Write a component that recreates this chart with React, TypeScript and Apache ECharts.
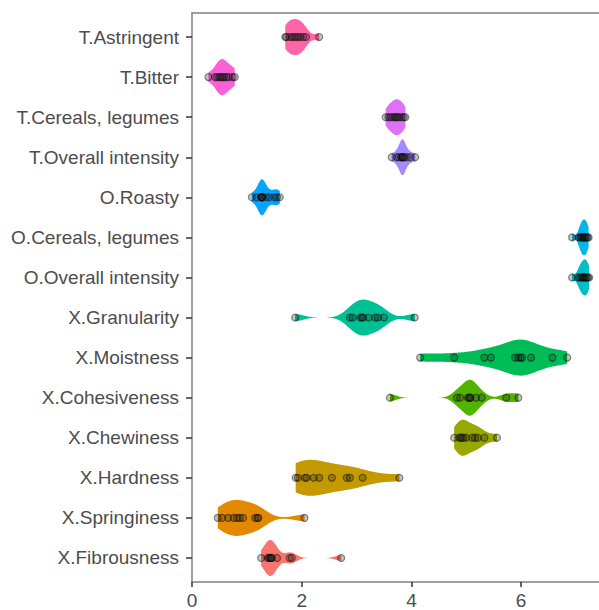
import React, { useEffect, useRef } from "react";
import * as echarts from "echarts";

const categories = [
  "T.Astringent",
  "T.Bitter",
  "T.Cereals, legumes",
  "T.Overall intensity",
  "O.Roasty",
  "O.Cereals, legumes",
  "O.Overall intensity",
  "X.Granularity",
  "X.Moistness",
  "X.Cohesiveness",
  "X.Chewiness",
  "X.Hardness",
  "X.Springiness",
  "X.Fibrousness",
];

const tAstringent = [1.7, 1.72, 1.78, 1.82, 1.86, 1.9, 1.94, 1.98, 2.03, 2.08, 2.32];
const tBitter = [0.3, 0.42, 0.46, 0.5, 0.53, 0.56, 0.59, 0.63, 0.67, 0.74, 0.78];
const tCereals = [3.53, 3.58, 3.62, 3.66, 3.7, 3.72, 3.75, 3.78, 3.82, 3.86, 3.89];
const tOverall = [3.64, 3.73, 3.77, 3.81, 3.83, 3.84, 3.85, 3.88, 3.92, 3.98, 4.07];
const oRoasty = [1.09, 1.18, 1.26, 1.27, 1.27, 1.28, 1.28, 1.35, 1.41, 1.5, 1.55, 1.6];
const oCereals = [6.93, 7.05, 7.08, 7.1, 7.12, 7.14, 7.15, 7.17, 7.19, 7.21, 7.23];
const oOverall = [6.93, 7.04, 7.07, 7.1, 7.12, 7.14, 7.16, 7.18, 7.2, 7.22, 7.24];
const xGranularity = [1.88, 2.88, 2.93, 3.07, 3.1, 3.12, 3.22, 3.34, 3.39, 3.5, 4.06];
const xMoistness = [4.16, 4.78, 5.33, 5.45, 5.89, 5.95, 5.99, 6.02, 6.18, 6.57, 6.84];
const xCohesiveness = [3.61, 4.83, 4.89, 5.03, 5.05, 5.07, 5.08, 5.18, 5.28, 5.73, 5.95];
const xChewiness = [4.78, 4.87, 4.9, 4.92, 4.95, 5.0, 5.11, 5.16, 5.21, 5.33, 5.56];
const xHardness = [1.89, 1.93, 2.06, 2.09, 2.22, 2.32, 2.55, 2.82, 2.88, 3.11, 3.78];
const xSpringiness = [0.47, 0.55, 0.66, 0.76, 0.82, 0.87, 0.93, 1.15, 1.19, 1.21, 2.05];
const xFibrousness = [1.26, 1.38, 1.4, 1.43, 1.43, 1.44, 1.46, 1.55, 1.78, 1.82, 2.72];

const seriesValues = [
  tAstringent,
  tBitter,
  tCereals,
  tOverall,
  oRoasty,
  oCereals,
  oOverall,
  xGranularity,
  xMoistness,
  xCohesiveness,
  xChewiness,
  xHardness,
  xSpringiness,
  xFibrousness,
];

const violinColors = [
  "#FF66A8",
  "#FB61D7",
  "#DF70F8",
  "#A58AFF",
  "#06A4FF",
  "#00B6EB",
  "#00BFC4",
  "#00C094",
  "#00BC56",
  "#53B400",
  "#99A800",
  "#C49A00",
  "#E38900",
  "#F8766D",
];

const xTicks = [0, 2, 4, 6];

function quantile7(sorted: number[], p: number) {
  const h = (sorted.length - 1) * p;
  const lo = Math.floor(h);
  const hi = Math.ceil(h);
  return sorted[lo] + (h - lo) * (sorted[hi] - sorted[lo]);
}

function bwNrd0(v: number[]) {
  const n = v.length;
  const mean = v.reduce((a, b) => a + b, 0) / n;
  const sd = Math.sqrt(v.reduce((a, b) => a + (b - mean) * (b - mean), 0) / (n - 1));
  const s = [...v].sort((a, b) => a - b);
  const iqr = quantile7(s, 0.75) - quantile7(s, 0.25);
  let lo = Math.min(sd, iqr / 1.34);
  if (!(lo > 0)) lo = sd || Math.abs(s[0]) || 1;
  return 0.9 * lo * Math.pow(n, -0.2);
}

function violinOutline(v: number[], steps = 200) {
  const bw = bwNrd0(v);
  const min = Math.min(...v);
  const max = Math.max(...v);
  const pts: number[][] = [];
  let maxD = 0;
  for (let i = 0; i <= steps; i++) {
    const x = min + ((max - min) * i) / steps;
    let d = 0;
    for (const xi of v) {
      const z = (x - xi) / bw;
      d += Math.exp(-0.5 * z * z);
    }
    if (d > maxD) maxD = d;
    pts.push([x, d]);
  }
  return pts.map(([x, d]) => [x, (0.45 * d) / maxD]);
}

export default function App() {
  const ref = useRef<HTMLDivElement>(null);

  useEffect(() => {
    if (!ref.current) return;
    const chart = echarts.init(ref.current, undefined, { renderer: "svg" });
    const outlines = seriesValues.map((v) => violinOutline(v));
    const font = "'Liberation Sans', Arial, Helvetica, sans-serif";
    const xMax = 7.42;

    const pointData: number[][] = [];
    seriesValues.forEach((vals, i) => {
      vals.forEach((v) => pointData.push([v, i + 1]));
    });

    chart.setOption({
      animation: false,
      backgroundColor: "#ffffff",
      grid: { left: 192, right: 0, top: 13, bottom: 25, containLabel: false },
      xAxis: [
        {
          type: "value",
          min: 0,
          max: xMax,
          position: "bottom",
          axisLine: { show: true, lineStyle: { color: "#808080", width: 1.5 } },
          axisTick: {
            show: true,
            length: 5,
            customValues: xTicks,
            lineStyle: { color: "#333333", width: 1.5 },
          },
          axisLabel: {
            show: true,
            customValues: xTicks,
            color: "#4d4d4d",
            fontSize: 19,
            fontFamily: font,
            margin: 9,
          },
          splitLine: { show: false },
        },
        {
          type: "value",
          min: 0,
          max: xMax,
          position: "top",
          axisLine: { show: true, lineStyle: { color: "#808080", width: 1.5 } },
          axisTick: { show: false },
          axisLabel: { show: false },
          splitLine: { show: false },
        },
      ],
      yAxis: {
        type: "value",
        min: 0.4,
        max: 14.6,
        inverse: true,
        axisLine: { show: true, lineStyle: { color: "#808080", width: 1.5 } },
        axisTick: {
          show: true,
          length: 6,
          customValues: categories.map((_, i) => i + 1),
          lineStyle: { color: "#333333", width: 1.5 },
        },
        axisLabel: {
          show: true,
          customValues: categories.map((_, i) => i + 1),
          formatter: (val: number) => categories[Math.round(val) - 1] ?? "",
          color: "#4d4d4d",
          fontSize: 19,
          fontFamily: font,
          margin: 13,
        },
        splitLine: { show: false },
      },
      series: [
        {
          type: "custom",
          xAxisIndex: 0,
          yAxisIndex: 0,
          data: categories.map((_, i) => [seriesValues[i][0], i + 1]),
          renderItem: (params: any, api: any) => {
            const idx = params.dataIndex;
            const cat = idx + 1;
            const outline = outlines[idx];
            const top = outline.map(([x, hw]) => api.coord([x, cat - hw]));
            const bottom = outline
              .slice()
              .reverse()
              .map(([x, hw]) => api.coord([x, cat + hw]));
            return {
              type: "polygon",
              shape: { points: top.concat(bottom) },
              style: { fill: violinColors[idx], stroke: "none" },
            };
          },
          z: 2,
        },
        {
          type: "scatter",
          xAxisIndex: 0,
          yAxisIndex: 0,
          data: pointData,
          symbol: "circle",
          symbolSize: 7,
          itemStyle: {
            color: "rgba(40,40,40,0.35)",
            borderColor: "rgba(0,0,0,0.55)",
            borderWidth: 1.2,
          },
          z: 3,
        },
      ],
    });

    return () => {
      chart.dispose();
    };
  }, []);

  return (
    <div
      ref={ref}
      style={{ position: "absolute", left: 0, top: 0, width: 599, height: 610 }}
    />
  );
}
